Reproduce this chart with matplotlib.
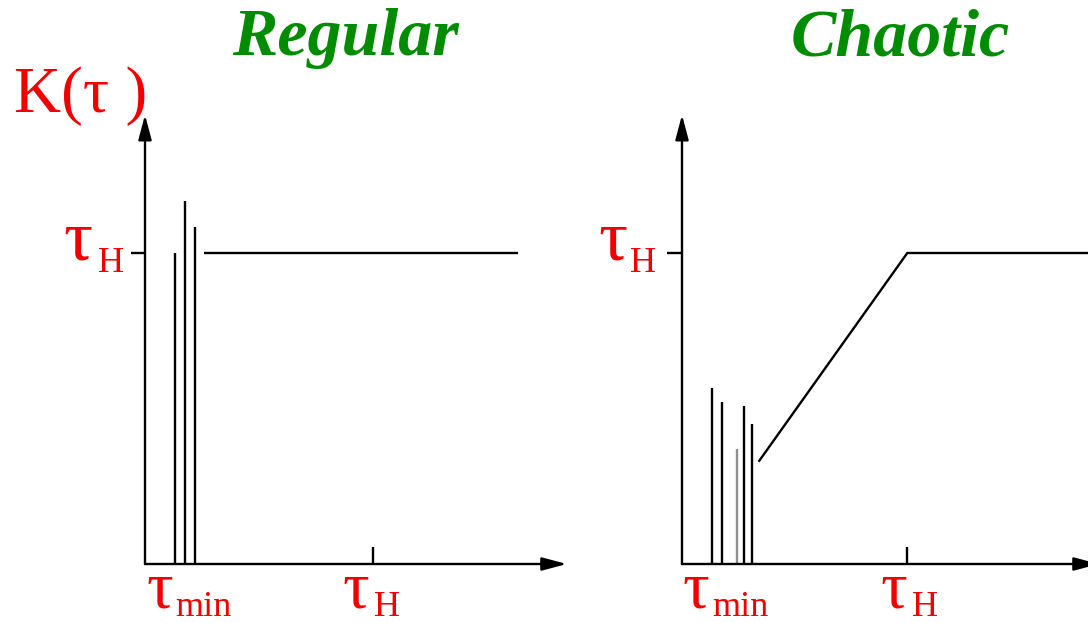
import matplotlib
matplotlib.use("Agg")
import matplotlib.pyplot as plt
from matplotlib.transforms import Affine2D

# Characteristic times (axis units)
tau_H = 1.0

# Regular spectrum: a few isolated spikes, then a flat plateau at tau_H
reg_spike_x = [0.133, 0.177, 0.221]
reg_spike_h = [1.0, 1.167, 1.085]
reg_plateau_x = [0.259, 1.636]
reg_plateau_y = [1.0, 1.0]

# Chaotic spectrum: small spikes, then linear ramp up to tau_H and plateau
cha_spike_x = [0.133, 0.178, 0.275, 0.312]
cha_spike_h = [0.565, 0.52, 0.508, 0.45]
cha_faint_x = [0.243]
cha_faint_h = [0.37]
cha_ramp_x = [0.343, 1.0, 1.85]
cha_ramp_y = [0.332, 1.0, 1.0]

panel_titles = ["Regular", "Chaotic"]

W, H = 1088, 623
DPI = 100
RED = "#f20000"
GREEN = "#008c00"
SERIF = ["Liberation Serif", "DejaVu Serif"]
LW = 1.7

fig = plt.figure(figsize=(W / DPI, H / DPI), dpi=DPI)
fig.patch.set_facecolor("white")

# pixel coordinates measured from the top-left corner
pix = Affine2D().scale(1, -1).translate(0, H)

XLIM = (-0.1, 1.9)
YLIM = (-0.05, 1.5)
X_END = 1.85
Y_END = 1.444


def make_axes(ox, ux, oy=564.0, uy=311.0):
    left = (ox + XLIM[0] * ux) / W
    width = (XLIM[1] - XLIM[0]) * ux / W
    bottom = (H - (oy - YLIM[0] * uy)) / H
    height = (YLIM[1] - YLIM[0]) * uy / H
    ax = fig.add_axes([left, bottom, width, height])
    ax.set_xlim(*XLIM)
    ax.set_ylim(*YLIM)
    ax.set_axis_off()
    return ax


def draw_frame(ax, ytick_len):
    arrow = dict(arrowstyle="-|>,head_length=0.75,head_width=0.2",
                 color="black", lw=LW, mutation_scale=20,
                 shrinkA=0, shrinkB=0)
    ax.annotate("", xy=(X_END, 0), xytext=(0, 0), arrowprops=arrow,
                annotation_clip=False)
    ax.annotate("", xy=(0, Y_END), xytext=(0, 0), arrowprops=arrow,
                annotation_clip=False)
    ax.plot([-ytick_len, 0], [tau_H, tau_H], color="black", lw=LW,
            clip_on=False, solid_capstyle="butt")
    ax.plot([tau_H, tau_H], [0, 0.055], color="black", lw=LW,
            clip_on=False, solid_capstyle="butt")


def tau_label(x, y, sub, x_sub, y_sub, size=48):
    fig.text(x, y, "\u03c4", transform=pix, color=RED, family=SERIF,
             fontsize=size, ha="left", va="baseline")
    fig.text(x_sub, y_sub, sub, transform=pix, color=RED, family=SERIF,
             fontsize=26, ha="left", va="baseline")


# ---- Regular panel ----
ax1 = make_axes(145.0, 228.0)
draw_frame(ax1, 0.061)
ax1.vlines(reg_spike_x, 0, reg_spike_h, colors="black", lw=LW)
ax1.plot(reg_plateau_x, reg_plateau_y, color="black", lw=LW,
         solid_capstyle="butt")

# ---- Chaotic panel ----
ax2 = make_axes(682.0, 225.3)
draw_frame(ax2, 0.067)
ax2.vlines(cha_spike_x, 0, cha_spike_h, colors="black", lw=LW)
ax2.vlines(cha_faint_x, 0, cha_faint_h, colors="#8f8f8f", lw=LW)
ax2.plot(cha_ramp_x, cha_ramp_y, color="black", lw=LW, clip_on=False)

# ---- Titles ----
fig.text(345, 55, panel_titles[0], transform=pix, color=GREEN,
         family=SERIF, fontsize=49, fontstyle="italic", fontweight="bold",
         ha="center", va="baseline")
fig.text(900, 55, panel_titles[1], transform=pix, color=GREEN,
         family=SERIF, fontsize=49, fontstyle="italic", fontweight="bold",
         ha="center", va="baseline")

# ---- Axis labels ----
fig.text(14, 112, "K(\u03c4 )", transform=pix, color=RED, family=SERIF,
         fontsize=47, ha="left", va="baseline")

tau_label(63, 260, "H", 98, 272, size=52)    # left y tick
tau_label(598, 260, "H", 630, 272, size=52)  # right y tick
tau_label(146, 608, "min", 175, 616)  # left tau_min
tau_label(343, 608, "H", 374, 616)    # left x tau_H
tau_label(682, 608, "min", 712, 616)  # right tau_min
tau_label(880, 608, "H", 912, 616)    # right x tau_H

fig.savefig("out.png", dpi=DPI, facecolor="white")
